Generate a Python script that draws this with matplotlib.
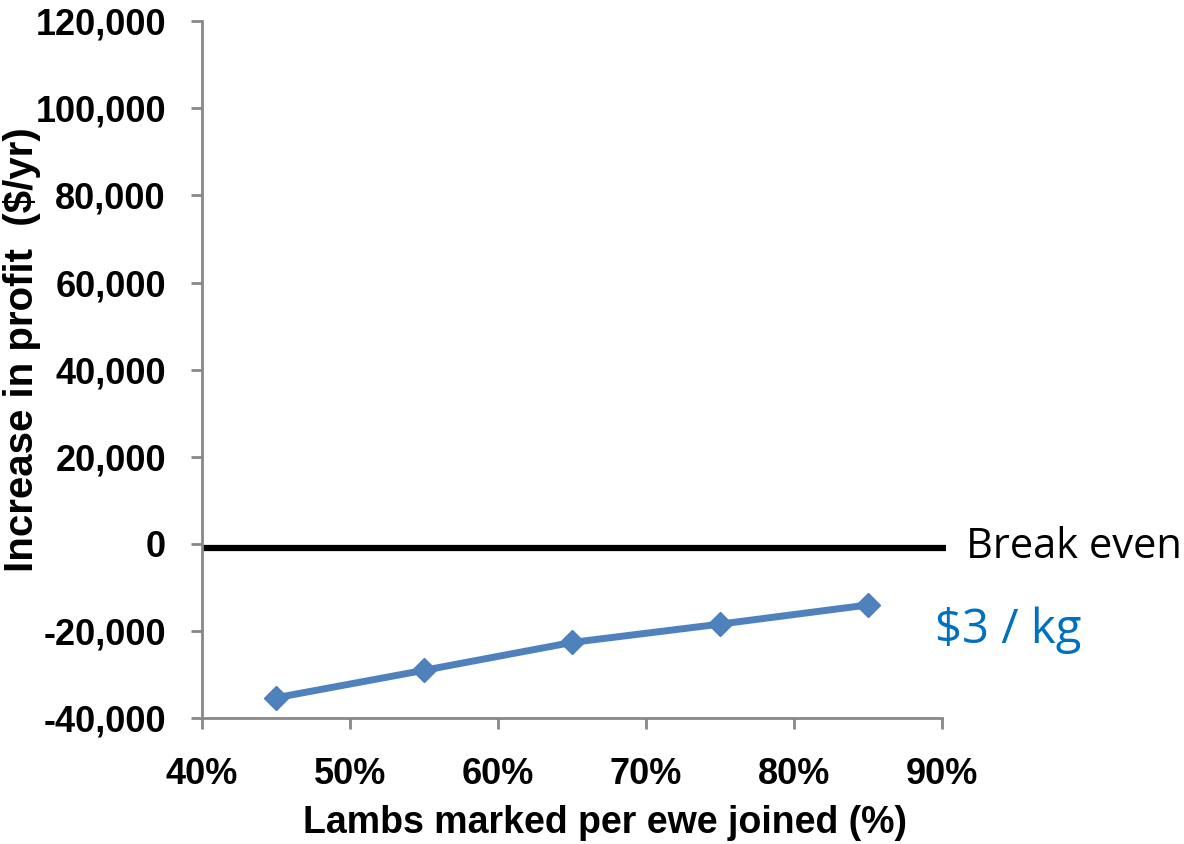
import matplotlib
matplotlib.use("Agg")
import matplotlib.pyplot as plt
from matplotlib.ticker import FuncFormatter

lambs_pct = [45, 55, 65, 75, 85]
profit = [-35300, -29000, -22600, -18400, -14000]
break_even = -1000
x_ticks = [40, 50, 60, 70, 80, 90]
y_ticks = [-40000, -20000, 0, 20000, 40000, 60000, 80000, 100000, 120000]

fig = plt.figure(figsize=(11.84, 8.44), dpi=100)
ax = fig.add_axes([0.1706, 0.149, 0.625, 0.826])

ax.plot([40, 90.3], [break_even, break_even], color="black", lw=4.5, solid_capstyle="butt", clip_on=False)
ax.plot(lambs_pct, profit, color="#4F81BD", lw=5, marker="D", markersize=12,
        markerfacecolor="#4F81BD", markeredgecolor="#4A7EBB")

ax.set_xlim(40, 90)
ax.set_ylim(-40000, 120000)
ax.set_xticks(x_ticks)
ax.set_yticks(y_ticks)
ax.xaxis.set_major_formatter(FuncFormatter(lambda v, p: f"{int(v)}%"))
ax.yaxis.set_major_formatter(FuncFormatter(lambda v, p: f"{int(v):,}"))

for s in ["top", "right"]:
    ax.spines[s].set_visible(False)
for s in ["left", "bottom"]:
    ax.spines[s].set_color("#888888")
    ax.spines[s].set_linewidth(2)
ax.tick_params(axis="both", direction="out", length=8, width=2, color="#888888",
               labelsize=26)
ax.tick_params(axis="y", pad=18)
ax.tick_params(axis="x", pad=20)
for lab in ax.get_xticklabels() + ax.get_yticklabels():
    lab.set_fontweight("bold")
    lab.set_family("Liberation Sans")

fig.text(605 / 1184, 1 - 823 / 844, "Lambs marked per ewe joined (%)", fontsize=27,
         fontweight="bold", family="Liberation Sans", ha="center", va="center")
fig.text(22 / 1184, 1 - 350 / 844, "Increase in profit  ($/yr)", fontsize=29,
         fontweight="bold", family="Liberation Sans", ha="center", va="center", rotation=90)

fig.text(966 / 1184, 1 - 547 / 844, "Break even", fontsize=30, family="Open Sans",
         va="center", ha="left", color="black")
fig.text(935 / 1184, 1 - 630 / 844, "$3 / kg", fontsize=34, family="Open Sans",
         va="center", ha="left", color="#0070C0")

fig.savefig("out.png", dpi=100)
